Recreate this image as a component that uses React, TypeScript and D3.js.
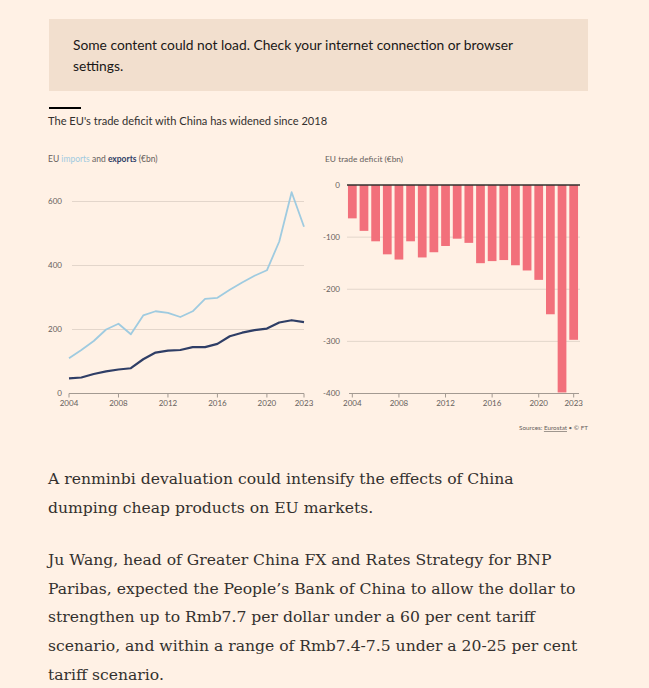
import React from "react";
import * as d3 from "d3";

const years = [2004, 2005, 2006, 2007, 2008, 2009, 2010, 2011, 2012, 2013, 2014, 2015, 2016, 2017, 2018, 2019, 2020, 2021, 2022, 2023];
const imports = [110, 136, 164, 200, 218, 185, 244, 257, 252, 239, 257, 296, 299, 324, 347, 368, 385, 475, 629, 521];
const exportsV = [47, 50, 61, 69, 75, 79, 107, 128, 134, 136, 145, 145, 155, 179, 190, 198, 203, 222, 229, 223];
const deficit = [-64, -88, -108, -133, -143, -108, -139, -129, -117, -103, -111, -150, -146, -144, -154, -164, -182, -248, -398, -297];
const xTicks = [2004, 2008, 2012, 2016, 2020, 2023];
const leftTicks = [0, 200, 400, 600];
const rightTicks = [0, -100, -200, -300, -400];

const bannerLines = [
  "Some content could not load. Check your internet connection or browser",
  "settings.",
];
const title = "The EU's trade deficit with China has widened since 2018";
const para1 = [
  "A renminbi devaluation could intensify the effects of China",
  "dumping cheap products on EU markets.",
];
const para2 = [
  "Ju Wang, head of Greater China FX and Rates Strategy for BNP",
  "Paribas, expected the People\u2019s Bank of China to allow the dollar to",
  "strengthen up to Rmb7.7 per dollar under a 60 per cent tariff",
  "scenario, and within a range of Rmb7.4-7.5 under a 20-25 per cent",
  "tariff scenario.",
];

const BG = "#fff1e5";
const INK = "#33302e";
const MUTED = "#66605c";
const GRID = "#e3d6cb";
const IMP = "#9fcbe0";
const EXP = "#2f3e66";
const BAR = "#f2707b";
const SANS = "Lato, 'Open Sans', sans-serif";
const SERIF = "'DejaVu Serif', serif";

export default function App() {
  const xL = d3.scaleLinear().domain([2004, 2023]).range([69, 304]);
  const yL = d3.scaleLinear().domain([0, 600]).range([393.5, 201.5]);
  const xR = d3.scaleBand<number>().domain(years).range([346.5, 579.5]).paddingInner(0.25).paddingOuter(0.125);
  const yR = d3.scaleLinear().domain([0, -400]).range([185, 393.5]);

  const line = d3
    .line<number>()
    .x((_, i) => xL(years[i]))
    .y((d) => yL(d))
    .curve(d3.curveLinear);

  return (
    <svg
      width={649}
      height={688}
      style={{ position: "absolute", left: 0, top: 0, display: "block" }}
    >
      <rect x={0} y={0} width={649} height={688} fill={BG} />
      {/* banner */}
      <rect x={49} y={19} width={539} height={72} fill="#f2dfce" />
      {bannerLines.map((t, i) => (
        <text key={i} x={73} y={50 + i * 20.5} fontFamily={SANS} fontSize={13.8} fill="#1a1817">
          {t}
        </text>
      ))}
      {/* title */}
      <rect x={49} y={107} width={32} height={2} fill="#000" />
      <text x={48} y={125} fontFamily={SANS} fontSize={11.1} fill={INK}>
        {title}
      </text>

      {/* left chart */}
      <text x={48} y={162} fontFamily={SANS} fontSize={8.5} fill={MUTED}>
        EU <tspan fill={IMP}>imports</tspan> and{" "}
        <tspan fill={EXP} fontWeight={700}>exports</tspan> (€bn)
      </text>
      {leftTicks.map((t) => (
        <g key={t}>
          {t !== 0 && <line x1={72} x2={304} y1={yL(t)} y2={yL(t)} stroke={GRID} strokeWidth={1} />}
          <text x={62} y={yL(t)} dy="0.35em" textAnchor="end" fontFamily={SANS} fontSize={8} fill={MUTED}>
            {t}
          </text>
        </g>
      ))}
      <line x1={69} x2={304} y1={yL(0)} y2={yL(0)} stroke="#a39a92" strokeWidth={1} />
      {xTicks.map((t) => (
        <g key={t}>
          <line x1={xL(t)} x2={xL(t)} y1={yL(0)} y2={yL(0) + 4} stroke="#a39a92" strokeWidth={1} />
          <text x={xL(t)} y={406} textAnchor="middle" fontFamily={SANS} fontSize={8} fill={MUTED}>
            {t}
          </text>
        </g>
      ))}
      <path d={line(imports) || ""} fill="none" stroke={IMP} strokeWidth={1.8} strokeLinejoin="round" />
      <path d={line(exportsV) || ""} fill="none" stroke={EXP} strokeWidth={2.2} strokeLinejoin="round" />

      {/* right chart */}
      <text x={325} y={162} fontFamily={SANS} fontSize={8.4} fill={MUTED}>
        EU trade deficit (€bn)
      </text>
      {rightTicks.map((t) => (
        <g key={t}>
          {t !== 0 && t !== -400 && (
            <line x1={347} x2={580} y1={yR(t)} y2={yR(t)} stroke={GRID} strokeWidth={1} />
          )}
          <text x={340} y={yR(t)} dy="0.35em" textAnchor="end" fontFamily={SANS} fontSize={8} fill={MUTED}>
            {t}
          </text>
        </g>
      ))}
      {years.map((yr, i) => (
        <rect
          key={yr}
          x={xR(yr)}
          y={yR(0)}
          width={xR.bandwidth()}
          height={yR(deficit[i]) - yR(0)}
          fill={BAR}
        />
      ))}
      <line x1={349} x2={579} y1={yR(-400)} y2={yR(-400)} stroke="#a39a92" strokeWidth={1} />
      {xTicks.map((t) => {
        const cx = (xR(t) as number) + xR.bandwidth() / 2;
        return (
          <g key={t}>
            <line x1={cx} x2={cx} y1={yR(-400)} y2={yR(-400) + 4} stroke="#a39a92" strokeWidth={1} />
            <text x={cx} y={406} textAnchor="middle" fontFamily={SANS} fontSize={8} fill={MUTED}>
              {t}
            </text>
          </g>
        );
      })}
      <line x1={347} x2={580} y1={yR(0)} y2={yR(0)} stroke={INK} strokeWidth={1.5} />

      <text x={588} y={430} textAnchor="end" fontFamily={SANS} fontSize={6.3} fill={MUTED}>
        Sources: <tspan textDecoration="underline">Eurostat</tspan> • © FT
      </text>

      {/* body text */}
      {para1.map((t, i) => (
        <text key={i} x={48} y={484 + i * 29} fontFamily={SERIF} fontSize={15.6} fill={INK}>
          {t}
        </text>
      ))}
      {para2.map((t, i) => (
        <text key={i} x={48} y={565 + i * 28.7} fontFamily={SERIF} fontSize={15.6} fill={INK}>
          {t}
        </text>
      ))}
    </svg>
  );
}
